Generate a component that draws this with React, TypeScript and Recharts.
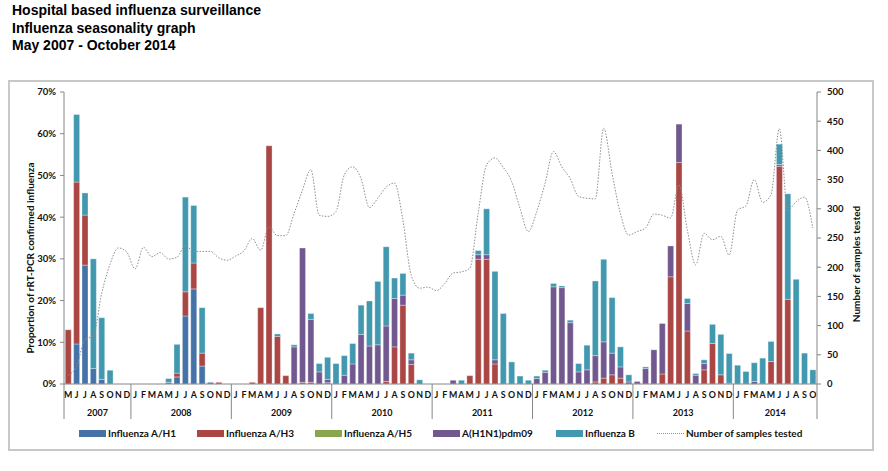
import React from 'react';
import { ComposedChart, Bar, Line, XAxis, YAxis } from 'recharts';

// ---------- data ----------
const YEARS = ['2007', '2008', '2009', '2010', '2011', '2012', '2013', '2014'];
const YEAR_MONTHS = [
  'MJJASOND',
  'JFMAMJJASOND',
  'JFMAMJJASOND',
  'JFMAMJJASOND',
  'JFMAMJJASOND',
  'JFMAMJJASOND',
  'JFMAMJJASOND',
  'JFMAMJJASO',
];

// proportions (%) per month, May 2007 - Oct 2014
const H1 = [
  0, 9.6, 28.5, 3.7, 1.1, 0, 0, 0,
  0, 0, 0, 0, 0.4, 1.7, 16.3, 22.8, 4.3, 0.4, 0, 0,
  0, 0, 0, 0, 0, 0, 0, 0, 0, 0, 0, 0.3,
  0, 0, 0, 0, 0, 0, 0, 0, 0, 0, 0, 0,
  0, 0, 0, 0, 0, 0, 0, 0, 0, 0, 0, 0,
  0, 0, 0, 0, 0, 0, 0, 0, 0, 0, 0, 0,
  0, 0, 0, 0, 0, 0, 0, 0, 0, 0, 0, 0,
  0, 0, 0, 0, 0, 0, 0, 0, 0, 0,
];
const H3 = [
  13.0, 38.8, 12.0, 0, 0, 0, 0, 0,
  0, 0, 0, 0, 0, 0.9, 5.8, 6.2, 3.1, 0, 0.4, 0,
  0, 0, 0.4, 18.3, 57.1, 11.4, 2.0, 0, 0.4, 0.4, 0, 0,
  0, 0, 0, 0, 0, 0, 0.6, 8.9, 18.9, 4.7, 0, 0,
  0, 0, 0, 0, 2.0, 29.9, 29.9, 4.8, 0, 0, 0, 0,
  0, 0, 0, 0, 0, 0, 0, 0.5, 1.4, 2.2, 1.4, 0,
  0, 0, 0, 2.4, 25.7, 53.1, 12.7, 0, 3.4, 9.7, 2.2, 0.2,
  0, 0, 0, 0, 5.4, 52.2, 20.3, 0, 0, 0,
];
const H5 = [
  0, 0, 0, 0, 0, 0, 0, 0,
  0, 0, 0, 0, 0, 0, 0, 0, 0, 0, 0, 0,
  0, 0, 0, 0, 0, 0, 0, 0, 0, 0, 0, 0,
  0, 0, 0, 0, 0, 0, 0, 0, 0, 0, 0, 0,
  0, 0, 0, 0, 0, 0, 0, 0, 0, 0, 0, 0,
  0, 0, 0, 0, 0, 0, 0, 0, 0, 0, 0, 0,
  0, 0, 0, 0, 0, 0, 0, 0, 0, 0, 0, 0,
  0, 0, 0, 0, 0, 0, 0, 0, 0, 0,
];
const PDM09 = [
  0, 0, 0, 0, 0, 0, 0, 0,
  0, 0, 0, 0, 0, 0, 0, 0, 0, 0, 0, 0,
  0, 0, 0, 0, 0, 0, 0, 8.9, 32.2, 15.1, 2.9, 0.8,
  0, 2.1, 4.8, 11.9, 9.1, 9.4, 13.3, 11.6, 2.4, 1.1, 0, 0,
  0, 0, 0.9, 0, 0, 1.1, 1.1, 1.0, 0, 0, 0, 0,
  1.3, 2.8, 23.3, 23.1, 14.7, 2.9, 3.4, 6.3, 8.7, 5.2, 2.7, 0.5,
  0.6, 3.7, 8.2, 12.1, 7.4, 9.2, 6.6, 2.1, 1.5, 0, 0, 0,
  0, 0, 0.6, 0, 0, 0.4, 0, 0, 0, 0,
];
const FLU_B = [
  0, 16.2, 5.3, 26.3, 14.8, 3.3, 0, 0,
  0, 0, 0, 0, 0.9, 6.9, 22.7, 13.8, 10.9, 0, 0, 0,
  0, 0, 0, 0, 0, 0.6, 0, 0.5, 0, 1.4, 2.0, 5.3,
  4.9, 4.7, 4.9, 7.0, 10.8, 15.2, 19.0, 4.9, 5.2, 1.6, 1.0, 0,
  0, 0, 0, 0.9, 0, 1.0, 11.0, 21.2, 16.9, 5.3, 1.9, 0.9,
  0.6, 0.5, 0.8, 0.4, 0.6, 2.0, 5.9, 17.9, 19.8, 13.3, 4.8, 1.7,
  0, 0.4, 0, 0, 0, 0, 1.2, 0.4, 0.9, 4.6, 9.7, 7.1,
  4.5, 3.0, 4.5, 6.2, 4.8, 4.9, 25.3, 25.1, 7.4, 3.4,
];
// number of samples tested
const SAMPLES = [
  15, 30, 76, 82, 155, 205, 233, 226,
  197, 234, 218, 225, 214, 217, 237, 227, 227, 227, 216, 212,
  219, 228, 249, 229, 269, 254, 254, 292, 332, 367, 289, 287,
  295, 358, 372, 352, 302, 318, 337, 344, 281, 186, 164, 166,
  160, 172, 190, 192, 198, 292, 375, 387, 371, 347, 301, 261,
  295, 344, 398, 372, 352, 321, 318, 317, 438, 361, 292, 255,
  261, 267, 291, 289, 284, 341, 264, 204, 258, 247, 253, 221,
  298, 305, 350, 311, 324, 437, 298, 312, 320, 267,
];

const LEFT_TICKS = [0, 10, 20, 30, 40, 50, 60, 70];
const RIGHT_TICKS = [0, 50, 100, 150, 200, 250, 300, 350, 400, 450, 500];

// ---------- table ----------
type Row = {
  key: string; month: string; year: string; first: boolean; count: number;
  h1: number; h3: number; h5: number; pdm: number; b: number; samples: number;
};
const rows: Row[] = [];
YEARS.forEach((y, yi) => {
  const ms = YEAR_MONTHS[yi].split('');
  ms.forEach((m, mi) => {
    const i = rows.length;
    rows.push({
      key: `${y}-${mi}`, month: m, year: y, first: mi === 0, count: ms.length,
      h1: H1[i], h3: H3[i], h5: H5[i], pdm: PDM09[i], b: FLU_B[i], samples: SAMPLES[i],
    });
  });
});

// ---------- layout / style ----------
const W = 888, H = 471;
const PLOT_L = 64, PLOT_R = 817, PLOT_T = 92, PLOT_B = 384;
const LEFT_W = 40, RIGHT_W = 50, XAXIS_H = 40;
const BAND = (PLOT_R - PLOT_L) / rows.length;
const AXIS = '#868686';
const FONT = 'Lato, "Open Sans", sans-serif';
const C_H1 = '#4572A7', C_H3 = '#AA4643', C_H5 = '#89A54E', C_PDM = '#71588F', C_B = '#4198AF';
const LINE_C = '#8E8E8E';

function MonthTick(props: any) {
  const { x, y, payload } = props;
  const i = props.index ?? payload.index;
  const d = rows[i];
  if (!d) return null;
  const left = x - BAND / 2;
  return (
    <g>
      <text x={x} y={y + 14.3} textAnchor="middle" fontSize={8.8} fontWeight={700} fontFamily={FONT} fill="#111">
        {d.month}
      </text>
      {d.first && (
        <>
          <line x1={left} x2={left} y1={y} y2={y + 35} stroke={AXIS} strokeWidth={1} />
          <text x={left + (d.count * BAND) / 2} y={y + 32.3} textAnchor="middle" fontSize={9} fontWeight={700} fontFamily={FONT} fill="#111">
            {d.year}
          </text>
        </>
      )}
      {i === rows.length - 1 && (
        <line x1={x + BAND / 2} x2={x + BAND / 2} y1={y} y2={y + 35} stroke={AXIS} strokeWidth={1} />
      )}
    </g>
  );
}

const LEGEND = [
  { label: 'Influenza A/H1', color: C_H1, x: 79 },
  { label: 'Influenza A/H3', color: C_H3, x: 197 },
  { label: 'Influenza A/H5', color: C_H5, x: 315 },
  { label: 'A(H1N1)pdm09', color: C_PDM, x: 433 },
  { label: 'Influenza B', color: C_B, x: 556 },
  { label: 'Number of samples tested', color: '', x: 657 },
];

export default function App() {
  const tickStyle = { fontSize: 9.5, fontWeight: 700, fontFamily: FONT, fill: '#111' };
  const barStroke = { stroke: '#fff', strokeOpacity: 0.55, strokeWidth: 0.6 };
  return (
    <div style={{ position: 'absolute', left: 0, top: 0, width: W, height: H, background: '#fff', fontFamily: FONT }}>
      <div style={{ position: 'absolute', left: 12, top: 2, fontFamily: '"Liberation Sans", Arial, sans-serif', fontWeight: 700, fontSize: 14, lineHeight: '17.5px', color: '#000' }}>
        <div>Hospital based influenza surveillance</div>
        <div>Influenza seasonality graph</div>
        <div>May 2007 - October 2014</div>
      </div>
      <div style={{ position: 'absolute', left: 8, top: 80, width: 862, height: 367, border: '2px solid #C8C8C8' }} />
      <div style={{ position: 'absolute', left: 0, top: 0 }}>
        <ComposedChart
          width={W}
          height={H}
          data={rows}
          barCategoryGap="15%"
          margin={{ top: PLOT_T, left: PLOT_L - LEFT_W, right: W - PLOT_R - RIGHT_W, bottom: H - PLOT_B - XAXIS_H }}
        >
          <XAxis
            dataKey="key"
            interval={0}
            height={XAXIS_H}
            tickSize={0}
            tickMargin={0}
            tickLine={false}
            axisLine={{ stroke: AXIS }}
            tick={<MonthTick />}
          />
          <YAxis
            yAxisId="left"
            orientation="left"
            width={LEFT_W}
            domain={[0, 70]}
            ticks={LEFT_TICKS}
            tickFormatter={(v: number) => `${v}%`}
            tickSize={4}
            tickMargin={4}
            axisLine={{ stroke: AXIS }}
            tickLine={{ stroke: AXIS }}
            tick={tickStyle}
            allowDataOverflow
          />
          <YAxis
            yAxisId="right"
            orientation="right"
            width={RIGHT_W}
            domain={[0, 500]}
            ticks={RIGHT_TICKS}
            tickSize={4}
            tickMargin={6}
            axisLine={{ stroke: AXIS }}
            tickLine={{ stroke: AXIS }}
            tick={{ ...tickStyle, textAnchor: 'start' }}
          />
          <Bar yAxisId="left" dataKey="h1" stackId="s" fill={C_H1} {...barStroke} isAnimationActive={false} />
          <Bar yAxisId="left" dataKey="h3" stackId="s" fill={C_H3} {...barStroke} isAnimationActive={false} />
          <Bar yAxisId="left" dataKey="h5" stackId="s" fill={C_H5} {...barStroke} isAnimationActive={false} />
          <Bar yAxisId="left" dataKey="pdm" stackId="s" fill={C_PDM} {...barStroke} isAnimationActive={false} />
          <Bar yAxisId="left" dataKey="b" stackId="s" fill={C_B} {...barStroke} isAnimationActive={false} />
          <Line
            yAxisId="right"
            dataKey="samples"
            type="monotone"
            stroke={LINE_C}
            strokeWidth={1}
            strokeDasharray="1.5 1.5"
            dot={false}
            activeDot={false}
            isAnimationActive={false}
          />
        </ComposedChart>
      </div>
      <div style={{ position: 'absolute', left: 30, top: 258, transform: 'translate(-50%, -50%) rotate(-90deg)', whiteSpace: 'nowrap', fontSize: 10, fontWeight: 700, color: '#111' }}>
        Proportion of rRT-PCR confirmed influenza
      </div>
      <div style={{ position: 'absolute', left: 856, top: 264, transform: 'translate(-50%, -50%) rotate(-90deg)', whiteSpace: 'nowrap', fontSize: 10, fontWeight: 700, color: '#111' }}>
        Number of samples tested
      </div>
      {LEGEND.map((it) => (
        <div key={it.label} style={{ position: 'absolute', left: it.x, top: 426, height: 14, display: 'flex', alignItems: 'center', whiteSpace: 'nowrap', fontSize: 10, fontWeight: 700, color: '#111' }}>
          {it.color ? (
            <div style={{ width: 27, height: 7, background: it.color }} />
          ) : (
            <div style={{ width: 27, height: 0, borderTop: `1px dotted ${LINE_C}` }} />
          )}
          <span style={{ marginLeft: 2 }}>{it.label}</span>
        </div>
      ))}
    </div>
  );
}
